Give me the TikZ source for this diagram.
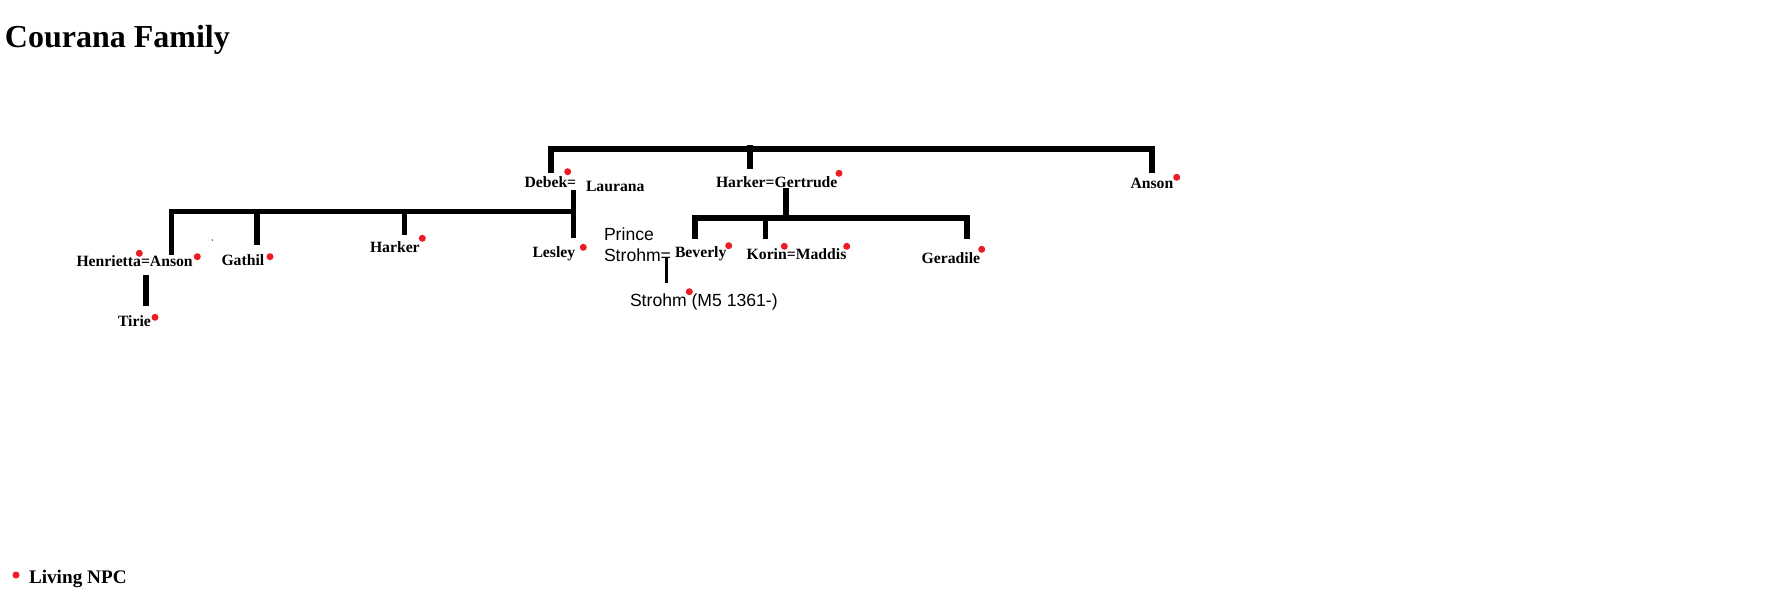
\documentclass[tikz,border=0pt]{standalone}
\usepackage{fontspec}
\setmainfont{Liberation Serif}
\newfontfamily\arialf{Liberation Sans}
\definecolor{npcred}{RGB}{237,28,36}
\tikzset{
  personname/.style={anchor=base west,inner sep=0pt,outer sep=0pt,font=\fontsize{15.7}{19}\selectfont\bfseries},
  sansname/.style={anchor=base west,inner sep=0pt,outer sep=0pt,font=\fontsize{17.6}{21}\selectfont\arialf},
  titlestyle/.style={anchor=base west,inner sep=0pt,outer sep=0pt,font=\fontsize{32}{38}\selectfont\bfseries},
  legendstyle/.style={anchor=base west,inner sep=0pt,outer sep=0pt,font=\fontsize{19.2}{23}\selectfont\bfseries},
  bar/.style={line width=5.2pt,line join=miter,black},
  thinbar/.style={line width=3pt,black},
  npc/.style={fill=npcred}
}
\begin{document}
\begin{tikzpicture}[x=1pt,y=-1pt]
\useasboundingbox[fill=white] (0,0) rectangle (1788,600);

% title
\node[titlestyle] (title) at (5,47) {Courana Family};

% names
\node[personname] (debek) at (524.5,187.5) {Debek=};
\node[personname] (laurana) at (586,191.5) {Laurana};
\node[personname] (hg) at (716,187.5) {Harker=Gertrude};
\node[personname] (ansonA) at (1130.5,188.5) {Anson};
\node[personname] (henan) at (76.5,266.5) {Henrietta=Anson};
\node[personname] (tirie) at (118,326.5) {Tirie};
\node[personname] (gathil) at (221.5,265.5) {Gathil};
\node[personname] (harkerB) at (370,252.5) {Harker};
\node[personname] (lesley) at (532.5,257) {Lesley};
\node[sansname] (prince) at (604,240.5) {Prince};
\node[sansname] (strohmeq) at (604,261.5) {Strohm=};
\node[personname] (beverly) at (675,257.3) {Beverly};
\node[personname] (korin) at (746.7,259.3) {Korin=Maddis};
\node[personname] (geradile) at (921.7,263.3) {Geradile};
\node[sansname] (strohm) at (630,306) {Strohm (M5 1361-)};
\node[legendstyle] (legend) at (29,583) {Living NPC};

% junction coordinates
\coordinate (topL) at (551,173);
\coordinate (topLc) at (551,149);
\coordinate (topRc) at (1152,149);
\coordinate (topR) at (1152,173);
\coordinate (topMa) at (750,145);
\coordinate (topMb) at (750,169);
\coordinate (dlA) at (573.5,190);
\coordinate (dlB) at (573.5,238);
\coordinate (lbR) at (573.5,211.5);
\coordinate (lbLc) at (171.5,211.5);
\coordinate (lbL) at (171.5,255);
\coordinate (gA) at (257,211.5);
\coordinate (gB) at (257,245);
\coordinate (hA) at (404.5,211.5);
\coordinate (hB) at (404.5,235);
\coordinate (tA) at (146,275);
\coordinate (tB) at (146,306);
\coordinate (hgA) at (786,188);
\coordinate (hgB) at (786,218);
\coordinate (cbL) at (695,239);
\coordinate (cbLc) at (695,218);
\coordinate (cbRc) at (967,218);
\coordinate (cbR) at (967,239);
\coordinate (kA) at (765.5,218);
\coordinate (kB) at (765.5,239);
\coordinate (psA) at (666,258);
\coordinate (psB) at (666,283);

% connectors
\draw[bar] (topL) -- (topLc) -- (topRc) -- (topR);
\draw[bar] (topMa) -- (topMb);
\draw[bar] (dlA) -- (dlB);
\draw[bar] (lbL) -- (lbLc) -- (lbR);
\draw[bar] (gA) -- (gB);
\draw[bar] (hA) -- (hB);
\draw[bar] (tA) -- (tB);
\draw[bar] (hgA) -- (hgB);
\draw[bar] (cbL) -- (cbLc) -- (cbRc) -- (cbR);
\draw[bar] (kA) -- (kB);
\draw[thinbar] (psA) -- (psB);

% living NPC dots
\fill[npc] (567.7,171.7) circle (3.5);
\fill[npc] (839,173.3) circle (3.5);
\fill[npc] (1176.7,177.3) circle (3.5);
\fill[npc] (139.3,253.3) circle (3.5);
\fill[npc] (197.3,256.7) circle (3.5);
\fill[npc] (155,317.3) circle (3.5);
\fill[npc] (270,256.7) circle (3.5);
\fill[npc] (422.3,238.3) circle (3.5);
\fill[npc] (583.3,247.3) circle (3.5);
\fill[npc] (728.7,245.7) circle (3.5);
\fill[npc] (784.3,246.3) circle (3.5);
\fill[npc] (846.7,246.3) circle (3.5);
\fill[npc] (981.7,249.3) circle (3.5);
\fill[npc] (689.3,291.7) circle (3.5);
\fill[npc] (16,575) circle (3.5);
% stray speck
\fill[black] (212.3,240) circle (0.7);
\end{tikzpicture}
\end{document}
